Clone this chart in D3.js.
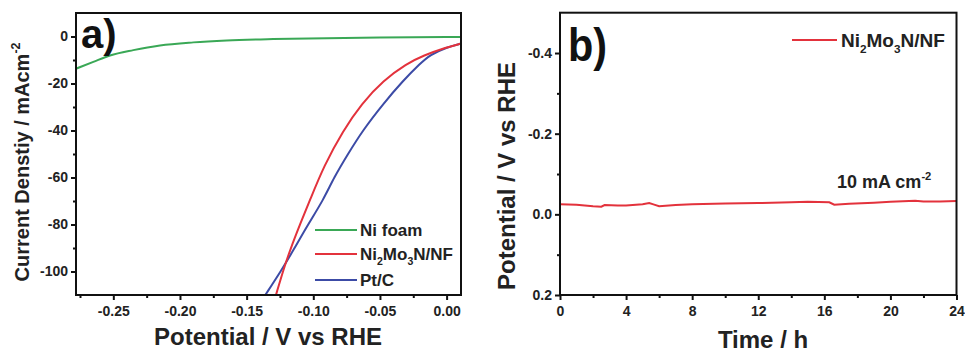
<!DOCTYPE html>
<html><head><meta charset="utf-8">
<script src="https://cdn.jsdelivr.net/npm/d3@7"></script>
<style>
body{margin:0;background:#fff;}
svg{display:block;font-family:"Liberation Sans",Arial,sans-serif;}
</style></head>
<body><svg id="c" width="965" height="354"></svg>
<script>
// ---------- Panel a data ----------
const xTicksA = [-0.25, -0.20, -0.15, -0.10, -0.05, 0.00];
const yTicksA = [0, -20, -40, -60, -80, -100];
const niFoamV = [-0.278, -0.265, -0.2525, -0.235, -0.215, -0.19, -0.165, -0.13, -0.09, -0.05, 0.0, 0.0108];
const niFoamJ = [-13.7, -10.8, -8.1, -5.8, -3.8, -2.5, -1.7, -1.1, -0.7, -0.4, -0.2, -0.2];
const nmnV = [-0.128, -0.1225, -0.1175, -0.110, -0.1025, -0.092, -0.0776, -0.0638, -0.0475, -0.030, -0.0175, 0.0, 0.0108];
const nmnJ = [-110, -99.4, -91, -80, -69.6, -55, -40, -28.6, -18.7, -11.6, -8.1, -4.6, -3.0];
const ptcV = [-0.136, -0.1238, -0.115, -0.104, -0.0925, -0.0845, -0.074, -0.063, -0.0475, -0.0325, -0.020, -0.0125, 0.0, 0.0108];
const ptcJ = [-110, -99.4, -91, -80, -69.6, -60, -50, -40, -28.6, -18.7, -11.6, -7.8, -4.6, -3.0];
const legendA = ["Ni foam", "Ni2Mo3N/NF", "Pt/C"];

// ---------- Panel b data ----------
const xTicksB = [0, 4, 8, 12, 16, 20, 24];
const yTicksB = [-0.4, -0.2, 0.0, 0.2];
const timeH = [0, 1, 1.5, 2, 2.5, 2.7, 3.5, 4, 5, 5.4, 5.7, 6, 7, 8, 10, 12, 14, 15, 16.3, 16.6, 17.5, 19, 20, 21.5, 22, 23, 24];
const potB  = [-0.025, -0.024, -0.022, -0.020, -0.019, -0.023, -0.022, -0.022, -0.025, -0.028, -0.024, -0.020, -0.023, -0.025, -0.027, -0.028, -0.030, -0.031, -0.030, -0.024, -0.026, -0.029, -0.031, -0.034, -0.032, -0.032, -0.033];

const GREEN = "#3aa856", RED = "#e3323c", BLUE = "#3c4ba6";
const svg = d3.select("#c");
const fmt = f => v => d3.format(f)(v).replace("\u2212", "-");

function frame(g, x0, x1, y0, y1) {
  g.append("rect").attr("x", x0).attr("y", y0).attr("width", x1 - x0).attr("height", y1 - y0)
    .attr("fill", "none").attr("stroke", "#111").attr("stroke-width", 2);
}
function axes(g, x, y, xt, yt, xminor, yminor, xf, yf, x0, y1, fs) {
  const xa = d3.axisBottom(x).tickValues(xt).tickSize(5).tickPadding(6).tickFormat(xf);
  const xg = g.append("g").attr("transform", `translate(0,${y1})`).call(xa);
  const xm = g.append("g").attr("transform", `translate(0,${y1})`).call(d3.axisBottom(x).tickValues(xminor).tickSize(3).tickFormat(""));
  const ya = d3.axisLeft(y).tickValues(yt).tickSize(5).tickPadding(3).tickFormat(yf);
  const yg = g.append("g").attr("transform", `translate(${x0},0)`).call(ya);
  const ym = g.append("g").attr("transform", `translate(${x0},0)`).call(d3.axisLeft(y).tickValues(yminor).tickSize(3).tickFormat(""));
  [xg, xm, yg, ym].forEach(a => {
    a.select(".domain").remove();
    a.selectAll("line").attr("stroke", "#111").attr("stroke-width", 2);
    a.selectAll("text").attr("font-size", fs).attr("font-weight", "bold").attr("fill", "#222")
      .attr("font-family", "Liberation Sans, Arial, sans-serif");
  });
}
function addSubText(t, parts, fs) {
  parts.forEach(p => {
    const s = t.append("tspan").text(p[0]);
    if (p[1] === "sub") s.attr("font-size", fs * 0.62).attr("dy", fs * 0.3);
    else if (p[1] === "sup") s.attr("font-size", fs * 0.62).attr("dy", -fs * 0.45);
    else if (p[1] === "subback") s.attr("dy", -fs * 0.3);
    else if (p[1] === "supback") s.attr("dy", fs * 0.45);
  });
}
const nmnParts = fs => [["Ni"], ["2", "sub"], ["Mo", "subback"], ["3", "sub"], ["N/NF", "subback"]];

// ================= Panel a =================
{
  const L = 76, R = 461, T = 13, B = 295;
  const x = d3.scaleLinear().domain([-0.278, 0.0108]).range([L, R]);
  const y = d3.scaleLinear().domain([-110, 10]).range([B, T]);
  const g = svg.append("g");
  svg.append("clipPath").attr("id", "clipA").append("rect").attr("x", L).attr("y", T).attr("width", R - L).attr("height", B - T);
  const lineX = d3.line().x(d => x(d[0])).y(d => y(d[1])).curve(d3.curveMonotoneX);
  const lineB = d3.line().x(d => x(d[0])).y(d => y(d[1])).curve(d3.curveBasis);
  g.append("path").attr("d", lineX(d3.zip(niFoamV, niFoamJ))).attr("fill", "none")
    .attr("stroke", GREEN).attr("stroke-width", 2).attr("clip-path", "url(#clipA)");
  [[d3.zip(ptcV, ptcJ), BLUE], [d3.zip(nmnV, nmnJ), RED]].forEach(s =>
    g.append("path").attr("d", lineB(s[0])).attr("fill", "none")
      .attr("stroke", s[1]).attr("stroke-width", 2).attr("clip-path", "url(#clipA)"));
  axes(g, x, y, xTicksA, yTicksA, [-0.275, -0.225, -0.175, -0.125, -0.075, -0.025], [-10, -30, -50, -70, -90],
    fmt(".2f"), fmt("d"), L, B, 14);
  frame(g, L, R, T, B);
  g.append("text").attr("x", 81).attr("y", 48).attr("font-size", 40).attr("font-weight", "bold").attr("fill", "#111").text("a)");
  // legend
  const cols = [GREEN, RED, BLUE], ly = [230, 254, 280];
  legendA.forEach((n, i) => {
    g.append("line").attr("x1", 315).attr("x2", 357).attr("y1", ly[i]).attr("y2", ly[i]).attr("stroke", cols[i]).attr("stroke-width", 2);
    const t = g.append("text").attr("x", 360).attr("y", ly[i] + 6).attr("font-size", 17).attr("font-weight", "bold").attr("fill", "#222");
    if (i === 1) addSubText(t, nmnParts(17), 17); else t.text(n);
  });
  g.append("text").attr("x", 268).attr("y", 345).attr("text-anchor", "middle").attr("font-size", 24)
    .attr("font-weight", "bold").attr("fill", "#222").text("Potential / V vs RHE");
  const yl = g.append("text").attr("transform", "translate(29,162) rotate(-90)").attr("text-anchor", "middle")
    .attr("font-size", 20).attr("font-weight", "bold").attr("fill", "#222");
  addSubText(yl, [["Current Denstiy / mAcm"], ["-2", "sup"]], 20);
}

// ================= Panel b =================
{
  const L = 560, R = 956.5, T = 12.7, B = 295;
  const x = d3.scaleLinear().domain([0, 24]).range([L, R]);
  const y = d3.scaleLinear().domain([-0.5, 0.2]).range([T, B]);
  const g = svg.append("g");
  const line = d3.line().x(d => x(d[0])).y(d => y(d[1]));
  g.append("path").attr("d", line(d3.zip(timeH, potB))).attr("fill", "none").attr("stroke", RED).attr("stroke-width", 2);
  axes(g, x, y, xTicksB, yTicksB, [2, 6, 10, 14, 18, 22], [-0.3, -0.1, 0.1],
    fmt("d"), fmt(".1f"), L, B, 14);
  frame(g, L, R, T, B);
  g.append("text").attr("x", 568).attr("y", 61).attr("font-size", 46).attr("font-weight", "bold").attr("fill", "#111")
    .attr("transform", "translate(568,0) scale(0.9,1) translate(-568,0)").text("b)");
  g.append("line").attr("x1", 792).attr("x2", 837).attr("y1", 40).attr("y2", 40).attr("stroke", RED).attr("stroke-width", 2);
  const lt = g.append("text").attr("x", 841).attr("y", 47).attr("font-size", 19).attr("font-weight", "bold").attr("fill", "#222");
  addSubText(lt, nmnParts(19), 19);
  const ann = g.append("text").attr("x", 837).attr("y", 188).attr("font-size", 18).attr("font-weight", "bold").attr("fill", "#222");
  addSubText(ann, [["10 mA cm"], ["-2", "sup"]], 18);
  g.append("text").attr("x", 763).attr("y", 348).attr("text-anchor", "middle").attr("font-size", 24)
    .attr("font-weight", "bold").attr("fill", "#222").text("Time / h");
  g.append("text").attr("transform", "translate(515,176) rotate(-90)").attr("text-anchor", "middle")
    .attr("font-size", 24).attr("font-weight", "bold").attr("fill", "#222").text("Potential / V vs RHE");
}
</script></body></html>
